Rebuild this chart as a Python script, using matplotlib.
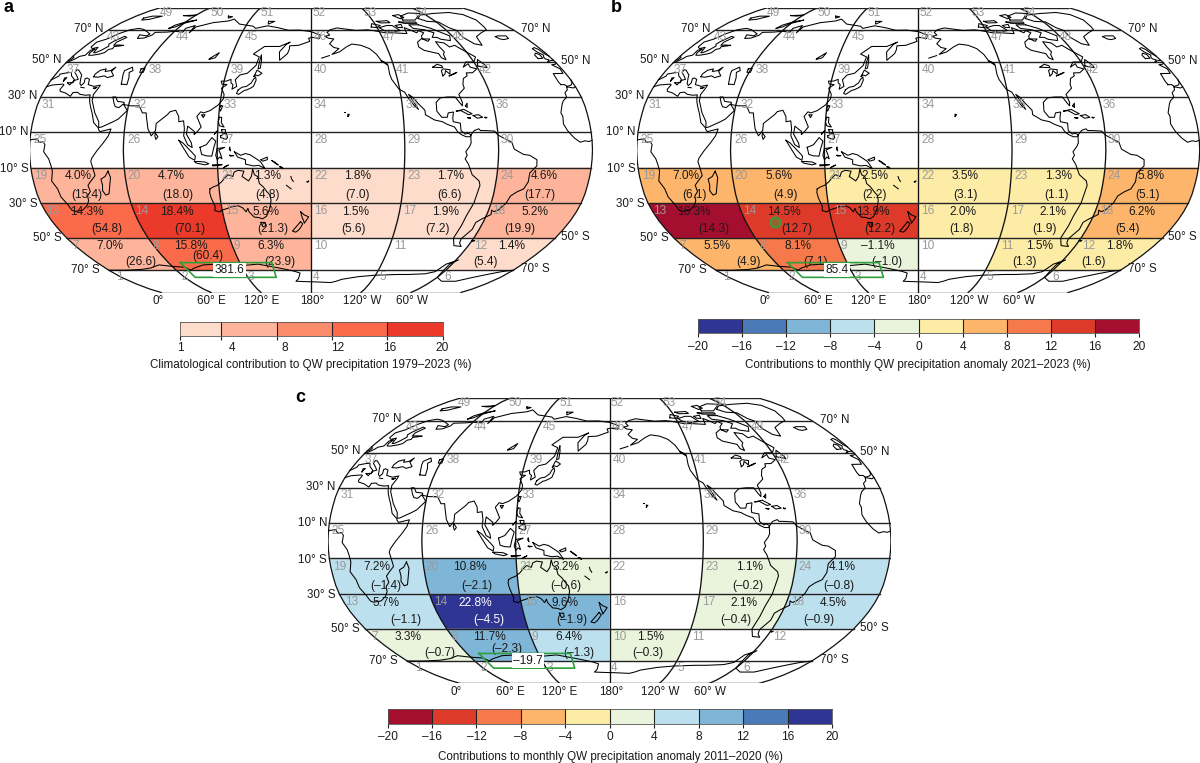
import numpy as np
import matplotlib
matplotlib.use("Agg")
import matplotlib.pyplot as plt
from matplotlib.colors import BoundaryNorm, ListedColormap

plt.rcParams['font.family'] = ['Liberation Sans', 'DejaVu Sans']

W, H = 1200, 763

# cells 7..24 of the 60x20 degree grid, nan = not coloured
pct_a = [7.0, 15.8, 6.3, np.nan, np.nan, 1.4,
         14.3, 18.4, 5.6, 1.5, 1.9, 5.2,
         4.0, 4.7, 1.3, 1.8, 1.7, 4.6]
val_a = [26.6, 60.4, 23.9, np.nan, np.nan, 5.4,
         54.8, 70.1, 21.3, 5.6, 7.2, 19.9,
         15.4, 18.0, 4.8, 7.0, 6.6, 17.7]
box_a = "381.6"

pct_b = [5.5, 8.1, -1.1, np.nan, 1.5, 1.8,
         16.3, 14.5, 13.9, 2.0, 2.1, 6.2,
         7.0, 5.6, 2.5, 3.5, 1.3, 5.8]
val_b = [4.9, 7.1, -1.0, np.nan, 1.3, 1.6,
         14.3, 12.7, 12.2, 1.8, 1.9, 5.4,
         6.1, 4.9, 2.2, 3.1, 1.1, 5.1]
box_b = "85.4"

pct_c = [3.3, 11.7, 6.4, 1.5, np.nan, np.nan,
         5.7, 22.8, 9.6, np.nan, 2.1, 4.5,
         7.2, 10.8, 3.2, np.nan, 1.1, 4.1]
val_c = [-0.7, -2.3, -1.3, -0.3, np.nan, np.nan,
         -1.1, -4.5, -1.9, np.nan, -0.4, -0.9,
         -1.4, -2.1, -0.6, np.nan, -0.2, -0.8]
box_c = "\u201319.7"

levels_a = [1, 4, 8, 12, 16, 20]
levels_div = [-20, -16, -12, -8, -4, 0, 4, 8, 12, 16, 20]
colors_a = ['#fddccc', '#fdb49b', '#fb8c6c', '#fb6a4a', '#ec3a2a']
colors_div = ['#2f3592', '#4a7ab8', '#7fb6d8', '#bde0ef', '#eaf4dc',
              '#fdeca6', '#fdb56b', '#f5794a', '#dd3a2a', '#a50f2f']

title_a = "Climatological contribution to QW precipitation 1979\u20132023 (%)"
title_b = "Contributions to monthly QW precipitation anomaly 2021\u20132023 (%)"
title_c = "Contributions to monthly QW precipitation anomaly 2011\u20132020 (%)"

# Robinson table
plat = np.arange(0, 95, 5)
plen = np.array([1, .9986, .9954, .99, .9822, .973, .96, .9427, .9216, .8962, .8679,
                 .835, .7986, .7597, .7186, .6732, .6213, .5722, .5322])
pdfe = np.array([0, .062, .124, .186, .248, .31, .372, .434, .4958, .5571, .6176,
                 .6769, .7346, .7903, .8435, .8936, .9394, .9761, 1])

# coastlines, lon/lat read by eye
africa = [(-5.9, 35.8), (-2, 35.1), (3, 36.8), (10, 37.3), (11, 36.9), (10.2, 34.3), (11, 33.2), (15, 32.3), (19.5, 30.4), (20, 32.5),
          (23, 32.7), (25, 31.6), (29, 31), (32.3, 31.2), (32.6, 29.9), (33.8, 27), (35.5, 24), (37.2, 21), (38.5, 18), (39.5, 15.5),
          (43, 12.5), (43.3, 11.5), (44.5, 10.4), (51.2, 11.9), (50, 8), (47, 4), (43, -0.5), (39.7, -4.5), (38.8, -6.5), (39.5, -9),
          (40.6, -14.5), (36.8, -18), (34.8, -20), (35.4, -23.5), (32.8, -26), (32.4, -28.7), (30, -31.5), (25.7, -34), (20, -34.8),
          (18.4, -34), (17.5, -31), (15, -26.5), (14.4, -22), (11.8, -17.5), (13.5, -12), (13, -8.5), (12, -5), (9, -1), (9.7, 3),
          (8.5, 4.6), (6, 4.3), (4.5, 6.3), (1, 5.9), (-2, 4.8), (-4.5, 5.2), (-7.6, 4.4), (-11, 6.7), (-13.3, 9), (-15, 11),
          (-17, 14.7), (-16.3, 19), (-17, 21), (-14.5, 26), (-12.9, 27.9), (-9.8, 29.8), (-9.3, 32.5), (-6.8, 34), (-5.9, 35.8)]
eurasia = [(-9, 37), (-9.5, 38.7), (-8.8, 43.3), (-1.8, 43.4), (-1.1, 46), (-4.5, 48.4), (-1.5, 48.7), (1.5, 50.2), (4, 52), (5, 53.3),
           (8.5, 54), (8.2, 57), (10.6, 57.7), (10, 55.5), (11, 54), (14, 54), (18.5, 54.7), (21, 55.5), (21.5, 57.5), (24, 58),
           (23.5, 59.2), (28, 59.7), (30, 60), (25, 60.2), (22, 60), (21.3, 62), (25, 65), (22, 65.7), (18, 62.5), (17, 60.7),
           (18.8, 59.5), (16.5, 57), (14.3, 55.5), (12.8, 55.5), (11.3, 58.8), (8, 58), (5.5, 59), (5, 62), (10, 64), (14, 67.5),
           (19, 70), (25, 71), (31, 70.2), (41, 67.3), (40, 66), (33, 66.7), (35, 64.3), (40, 64.6), (44, 66.5), (44, 68.3), (54, 68.5),
           (60, 69), (68, 68.5), (67, 71), (73, 73), (74, 68), (75, 72), (81, 73.5), (87, 75), (100, 76.3), (104, 77.7), (113, 74),
           (127, 72.5), (130, 71), (140, 72.8), (150, 71.5), (160, 69.7), (170, 69.8), (180, 68.8), (-172, 66.5), (-173, 64.3),
           (-179, 65), (178, 64.5), (179, 62.5), (170, 60), (163, 59.7), (163, 57.5), (162, 55), (156.7, 51), (155.6, 56), (160, 60.5),
           (163, 62), (155, 59.3), (143, 59.3), (136, 54.7), (141, 53), (140, 48), (135, 43.5), (130, 42.5), (127.5, 39.8), (129.4, 36),
           (126.5, 34.4), (126.6, 37), (125, 38), (124.5, 40), (121.5, 39), (118, 39), (119, 37.3), (122.5, 37), (119.3, 35),
           (121.8, 31.5), (121.8, 29), (119, 25.5), (114, 22.3), (110, 21), (108, 21.6), (105.8, 19), (109.2, 13), (107, 10.5),
           (105, 8.7), (105, 10.5), (100.5, 13.5), (100, 9), (103.4, 4), (104, 1.4), (101, 3), (98.3, 8), (98.5, 12), (97.5, 16.5),
           (94.5, 16), (94, 19), (91.5, 22.5), (88, 21.7), (86.5, 20), (82, 16.5), (80, 15), (80, 11), (77.5, 8), (75, 12), (73, 19),
           (72.5, 21), (70, 21), (69, 22.5), (67, 25), (61.5, 25), (57, 25.7), (56.5, 27), (52, 27.5), (50, 30), (48, 30), (50, 26.5),
           (51.5, 24.5), (54, 24), (56.3, 26), (58.8, 23.5), (59.8, 22.3), (55, 17.5), (52, 16), (45, 13), (43.2, 12.7), (42.7, 16),
           (39, 21), (35, 28), (34.9, 29.5), (34.3, 31.3), (35.8, 35), (36, 36.7), (32, 36), (30, 36.5), (27.5, 37), (26.3, 40),
           (24, 40.8), (23, 40.3), (24, 38), (23, 36.5), (21.5, 37.5), (19.5, 41), (18.7, 42.5), (14, 45.3), (12.5, 45.5), (12.5, 44),
           (16, 41.8), (18.5, 40), (16.5, 39.5), (16, 38), (15.7, 40), (12, 42), (10, 44), (7, 43.7), (3, 43), (3.2, 41.8), (0, 39.7),
           (-0.5, 38), (-2, 36.8), (-5.5, 36), (-6.5, 37), (-9, 37)]
black_sea = [(28, 41.5), (27.7, 43), (29.5, 45.2), (33, 46), (33.5, 44.5), (37, 45), (39, 47), (38, 44.5), (41.5, 42), (38, 41), (35, 42), (31, 41.2), (28, 41.5)]
caspian = [(50, 37.3), (49, 40), (47.5, 43), (47, 45), (51, 47), (53, 45), (51, 44), (53, 41), (54, 37), (50, 37.3)]
n_america = [(-168, 65.7), (-164, 66.5), (-166, 68.3), (-163, 70), (-156.5, 71.3), (-148, 70.4), (-140, 69.6), (-130, 70), (-125, 69.5),
             (-115, 68), (-108, 68), (-97, 67.5), (-95.5, 71.5), (-92, 70), (-88, 68), (-85, 69.5), (-82, 68), (-86, 66), (-87, 64.5),
             (-93, 62), (-94.5, 59), (-92, 57), (-85, 55.5), (-82.3, 55), (-82, 52.5), (-79.5, 51.3), (-79, 54.5), (-77, 56), (-78, 59),
             (-78, 62.3), (-72, 61.5), (-70, 59), (-65, 60), (-62, 57.5), (-56, 53), (-60, 50), (-66, 50), (-70, 47), (-65, 49), (-65, 47),
             (-61, 46), (-65.5, 43.8), (-70, 43.7), (-70.5, 42), (-74, 40.5), (-76, 37), (-76, 35), (-81, 31.5), (-80, 27), (-80.5, 25),
             (-82, 27), (-84, 30), (-89, 30), (-94, 29.5), (-97.3, 27), (-97.8, 22), (-95, 18.5), (-91.5, 18.5), (-90.5, 21), (-87, 21.5),
             (-88, 18), (-88, 16), (-83.5, 15.2), (-83.5, 11), (-81, 9), (-79, 9.5), (-77.3, 8.6), (-78, 7.5), (-80.5, 7.5), (-83, 8.5),
             (-85.5, 10), (-87.5, 13), (-92, 14.5), (-95, 16), (-100, 17), (-105.5, 20), (-105.5, 22.5), (-109, 26), (-112.5, 30),
             (-114.7, 31.5), (-112, 27), (-109.6, 23), (-112, 25), (-115, 29), (-117, 32.7), (-120.5, 34.5), (-124, 40), (-124.5, 43),
             (-124, 48), (-128, 51), (-130, 54.5), (-134, 58), (-140, 60), (-147, 60.8), (-152, 59), (-158, 56), (-164, 54.5), (-158, 58),
             (-162, 58.7), (-165, 61), (-161, 64), (-165.5, 64.5), (-168, 65.7)]
s_america = [(-77.3, 8.6), (-75, 11), (-72, 12), (-71, 11), (-68, 11), (-62, 10.7), (-60, 8.5), (-55, 6), (-51.5, 4.5), (-50, 0.5), (-44, -2.5),
             (-40, -3), (-35.3, -5.5), (-35, -9), (-39, -13), (-39, -18), (-41, -22), (-45, -23.7), (-48.5, -26), (-50, -30), (-53.5, -34),
             (-56, -34.9), (-58, -34), (-57, -36.5), (-62, -39), (-65, -41), (-65, -45), (-69, -50.5), (-68, -53), (-65, -55), (-71, -54.5),
             (-75, -50), (-74, -43), (-73.5, -37), (-71.5, -30), (-70, -20), (-71, -17.5), (-76, -14), (-79, -8), (-81.3, -5), (-80, -3),
             (-81, -1), (-78.5, 2), (-77.5, 4), (-77.5, 7), (-77.3, 8.6)]
greenland = [(-73, 78.2), (-66, 81), (-50, 82.5), (-30, 83.5), (-20, 81.5), (-18, 77), (-22, 72), (-24, 70), (-32, 68), (-40, 65.5), (-43, 60),
             (-48, 61), (-52, 65), (-51, 69.5), (-55, 71.5), (-58, 75.5), (-68, 76), (-73, 78.2)]
australia = [(114, -22), (116, -21), (119, -20), (122, -18), (124, -16), (126.5, -14), (129.5, -15), (130.5, -12.5), (133, -11.5), (136.8, -12),
             (135.5, -15), (139.5, -17.5), (141.5, -15), (142.5, -10.8), (143.5, -14), (145.5, -15), (146.5, -19), (149, -21), (151, -23.5),
             (153, -25.5), (153.5, -28.5), (152.5, -32.5), (150.5, -36), (149.5, -37.5), (146.5, -39), (144, -38.2), (141, -38), (139, -36),
             (138, -35), (137.5, -33), (136, -35), (134, -32.7), (131, -31.5), (126, -32.3), (124, -33), (120, -34), (118, -35), (115, -34.3),
             (115.7, -32), (114, -27), (113.5, -24), (114, -22)]
antarctica = [(0, -70), (15, -70), (30, -69.5), (40, -68.5), (50, -66.5), (60, -67.5), (70, -68), (73, -70), (78, -68.5), (88, -66.5), (100, -66),
              (110, -66), (120, -67), (135, -66), (145, -67.5), (155, -69), (165, -70.7), (170, -72), (168, -76), (165, -78), (175, -78.3),
              (-175, -78.5), (-160, -79), (-155, -78), (-150, -76.5), (-135, -74.5), (-120, -73.5), (-100, -73), (-90, -73), (-75, -72.5),
              (-68, -71), (-65, -66), (-58, -63.3), (-62, -66), (-62, -70), (-60, -75), (-50, -78), (-36, -78), (-26, -75), (-15, -72.5),
              (-8, -71), (0, -70)]
islands = [
    [(145, -41), (148, -41), (148, -43), (146, -43.5), (145, -41)],
    [(173, -35), (175.5, -36.8), (178.4, -37.8), (177, -39.5), (175.3, -41.5), (174.8, -39.8), (174, -38.5), (173, -35)],
    [(172.7, -40.6), (174.2, -41.8), (172.8, -43.7), (171, -45.5), (169, -46.6), (166.7, -46), (169, -44), (172.7, -40.6)],
    [(131, -1), (135, -3), (138, -2), (141, -2.7), (145, -5), (147.5, -6.5), (150.5, -10.5), (146.5, -8.7), (143, -9), (138, -8), (138, -5.5), (133, -4), (131, -1)],
    [(109, 1.5), (113, 3), (116.5, 7), (119, 5), (117.7, 1), (116.5, -3.5), (113, -3.3), (110, -2.5), (109, 1.5)],
    [(95.3, 5.5), (98, 4), (103.5, -1), (106, -3.5), (105.5, -5.8), (102, -4), (98.5, 1), (95.3, 5.5)],
    [(105.3, -6.5), (108, -6.5), (112, -6.8), (114.5, -7.8), (112, -8.4), (106.5, -7.4), (105.3, -6.5)],
    [(120, 0.8), (124.8, 1.5), (121, 0), (122, -2), (123, -5), (121.5, -4), (120, -5.5), (119, -3), (120, 0.8)],
    [(120.5, 18.5), (122, 18.5), (122, 15.5), (124, 13), (121, 13.7), (120, 16), (120.5, 18.5)],
    [(122, 8), (125.5, 9.7), (126.5, 7), (125.5, 6), (124, 6.5), (122, 7), (122, 8)],
    [(118, 9), (120, 11), (118.8, 10), (118, 9)],
    [(122.5, 11.5), (125, 11.5), (125, 10), (123, 9.5), (122.5, 11.5)],
    [(120.8, 25), (122, 25), (120.8, 22), (120, 23.5), (120.8, 25)],
    [(109, 19.8), (111, 20), (110, 18.3), (109, 19.8)],
    [(80, 9.7), (81.8, 7.5), (80.6, 6), (79.8, 8), (80, 9.7)],
    [(130.8, 34), (133, 35.5), (136, 36), (139, 38), (140, 40), (141.3, 41.4), (142, 39.5), (140.8, 36), (139, 35), (136.5, 34), (135, 33.7), (131.5, 31.5), (130, 32), (130.8, 34)],
    [(140, 41.7), (141.5, 45.3), (145.3, 43.5), (143, 42), (141, 42.5), (140, 41.7)],
    [(142.3, 54), (143.3, 51), (143.5, 46.5), (142, 46), (142, 50), (142.3, 54)],
    [(49.3, -12), (50.4, -15.5), (47.3, -24.8), (45, -25.5), (43.5, -23), (44.3, -20), (44, -16.5), (47, -15), (49.3, -12)],
    [(-5.5, 50), (-3, 50.7), (1.3, 51.2), (1.7, 52.7), (0, 53.5), (-1.5, 55), (-2, 57.5), (-3.5, 58.6), (-6, 58), (-5.5, 56), (-3.2, 54), (-4.7, 53), (-5, 51.8), (-3, 51.3), (-5.5, 50)],
    [(-10, 52), (-6.3, 52.2), (-5.8, 54.5), (-8, 55.2), (-10, 54), (-10, 52)],
    [(-24, 65.5), (-21, 66), (-14, 66), (-15, 64.3), (-20, 63.6), (-22.5, 64), (-24, 65.5)],
    [(-80, 73.5), (-72, 71), (-66, 68), (-62, 66), (-65, 63), (-72, 63.8), (-74, 65), (-78, 65), (-73, 68), (-79, 70), (-88, 71), (-89, 73.5), (-80, 73.5)],
    [(-118, 71.5), (-110, 73), (-105, 73), (-101, 69.5), (-108, 68.8), (-115, 69.3), (-118, 71.5)],
    [(-90, 77), (-88, 80), (-75, 83), (-62, 82.5), (-70, 80), (-78, 77), (-90, 77)],
    [(-95, 80.5), (-88, 81.5), (-86, 79), (-91, 78), (-95, 80.5)],
    [(-125, 72), (-123, 74.3), (-116, 73), (-120, 71.5), (-125, 72)],
    [(-117, 76), (-106, 76.5), (-105, 75), (-114, 74.8), (-117, 76)],
    [(-96, 75.5), (-80, 75.5), (-80, 74.5), (-92, 74.5), (-96, 75.5)],
    [(-102, 73), (-96, 73.8), (-97, 71.5), (-101, 71.7), (-102, 73)],
    [(-87, 64), (-81, 64), (-84, 62.5), (-87, 64)],
    [(-59, 47.7), (-56, 51.5), (-53, 48), (-53, 46.7), (-59, 47.7)],
    [(-128, 50.7), (-124, 48.5), (-126, 50), (-128, 50.7)],
    [(12, 78.5), (17, 80), (27, 80), (20, 77.5), (14, 77), (12, 78.5)],
    [(52, 71), (54, 73.3), (60, 75.5), (68, 77), (60, 74.5), (56, 72), (52, 71)],
    [(-85, 22), (-80, 23), (-75, 20.5), (-77.5, 20), (-82, 22.3), (-85, 22)],
    [(-74.5, 19.5), (-71, 20), (-68.5, 18.5), (-72, 18), (-74.5, 19.5)],
    [(-78.3, 18.3), (-76.3, 18.2), (-77, 17.8), (-78.3, 18.3)],
    [(-67, 18.5), (-65.7, 18.4), (-66.5, 18), (-67, 18.5)],
    [(-78.5, 25), (-77, 26.5), (-77.5, 24), (-78.5, 25)],
    [(-156, 19), (-155, 20), (-156, 20.3), (-156, 19)],
    [(-158.2, 21.5), (-157.7, 21.5)],
    [(155, -6), (157, -7.5), (159, -8.5), (157, -7), (155, -6)],
    [(160, -9.5), (162, -10.5), (161, -9.5), (160, -9.5)],
    [(167, -15), (167.5, -16.5), (168.5, -17.8)],
    [(164, -20), (165.5, -21), (167, -22)],
    [(177.5, -18), (178.6, -17.5), (178, -18.2), (177.5, -18)],
    [(148, -5.5), (152, -4), (152, -5.5), (149, -6.3), (148, -5.5)],
    [(124, -10), (127, -8.5), (124.5, -9.5), (124, -10)],
    [(117, -8.5), (119, -8.3), (123, -8.3), (120, -8.8), (117, -9), (117, -8.5)],
    [(128, 1.5), (128.5, -0.5), (127.7, 0.5), (128, 1.5)],
    [(128, -3), (130.5, -3.2), (128.5, -3.5), (128, -3)],
    [(-92, 47), (-88, 48.7), (-85, 47.8), (-85, 46.7), (-92, 47)],
    [(-87.5, 42), (-87, 45), (-85, 46), (-80.5, 45.5), (-82, 43), (-84, 45), (-85.5, 43), (-87.5, 42)],
    [(-83, 42), (-79, 43), (-76.5, 44), (-79.5, 43.2), (-83, 42)],
    [(-60, -51.5), (-58, -51.5), (-59, -52), (-60, -51.5)],
    [(-172, 52.3), (-166, 53.8)],
    [(9, 39), (9.7, 41), (8.3, 40.8), (9, 39)],
    [(12.7, 38), (15.5, 38.2), (15, 36.8), (12.7, 38)],
    [(23.5, 35.5), (26, 35.2)],
    [(32.5, 35), (34.5, 35.5), (33.5, 34.7), (32.5, 35)],
    [(58, 46), (60.5, 46.5), (61, 44), (58.5, 44), (58, 46)],
    [(104, 52), (109.5, 55.5), (108, 52.5), (104, 51.5)],
    [(139, 76), (145, 76), (140, 74), (139, 76)],
    [(95, 80), (100, 79.5), (97, 78.5), (95, 80)],
    [(48, 80.5), (60, 81), (55, 80), (48, 80.5)],
]
coasts = [africa, eurasia, black_sea, caspian, n_america, s_america, greenland, australia, antarctica] + islands

# label layout in pixels of panel a (same in all three maps)
cx0, cy0, hw, hh = 311.0, 150.0, 281.5, 142.5
id_rows = [
    [119.5, 185, 251, 316, 382.4, 448],
    [75.9, 156, 236.4, 320.7, 400, 481],
    [52.9, 142, 232, 320.7, 410, 499],
    [41, 134, 228, 320.7, 414, 507],
    [40, 133.7, 227, 320.7, 414, 507],
    [48.3, 139.8, 230, 320.7, 412, 502],
    [72.8, 155, 237.5, 320.7, 402, 485],
    [113.4, 182, 251, 320, 389.7, 458.6],
    [166, 217, 267.4, 319, 370.5, 421.5],
]
id_y = [277.3, 246, 211, 175.7, 140, 104.7, 69.7, 36.7, 12.7]
pct_x = [110, 191, 270.5, 352, 432.6, 512,
         87, 177, 266, 355.6, 445.6, 535,
         78.5, 171.6, 268, 358, 451, 544]
val_x = [141, 208, 280, 349, 417, 486,
         107, 190, 273, 354, 437, 520,
         87, 178, 267, 358, 449, 540]
pct_y = [246.3, 211.7, 176]
val_y = [262.3, 229.3, 194.7]
lat_left = [("70\u00b0 N", 103.4, 28.5), ("50\u00b0 N", 62, 60), ("30\u00b0 N", 37, 96), ("10\u00b0 N", 28.7, 132),
            ("10\u00b0 S", 28.7, 169), ("30\u00b0 S", 37.5, 203.7), ("50\u00b0 S", 61.3, 238), ("70\u00b0 S", 99.6, 270)]
lat_right = [("70\u00b0 N", 521, 29), ("50\u00b0 N", 561, 61), ("50\u00b0 S", 561, 237), ("70\u00b0 S", 521, 269)]
lon_lab = [("0\u00b0", 157.9), ("60\u00b0 E", 211.5), ("120\u00b0 E", 261.3), ("180\u00b0", 312.3), ("120\u00b0 W", 362), ("60\u00b0 W", 412)]


def robinson(lon, lat):
    lon = np.asarray(lon, dtype=float)
    lat = np.asarray(lat, dtype=float)
    x = np.interp(np.abs(lat), plat, plen) * (lon - 180) / 180
    y = np.sign(lat) * np.interp(np.abs(lat), plat, pdfe)
    return x, y


def lay(px, py):
    return (px - cx0) / hw, (cy0 - py) / hh


def fmt(v):
    return f"{abs(v):.1f}" if v >= 0 else f"\u2013{abs(v):.1f}"


def coast_line(pts):
    lon, lat = np.array(pts, dtype=float).T
    lon = lon % 360
    xs, ys = [], []
    for i in range(len(lon)):
        if i > 0 and abs(lon[i] - lon[i - 1]) > 180:
            a, b = lon[i - 1], lon[i]
            if a > b:
                e1, e2, t = 360, 0, (360 - a) / (360 - a + b)
            else:
                e1, e2, t = 0, 360, a / (a + 360 - b)
            ym = lat[i - 1] + t * (lat[i] - lat[i - 1])
            xs += [e1, np.nan, e2]
            ys += [ym, np.nan, ym]
        xs.append(lon[i])
        ys.append(lat[i])
    return robinson(xs, ys)


def draw_map(fig, cx, cy, pct, val, box, cmap, norm, y8, light=()):
    ax = fig.add_axes([(cx - hw) / W, 1 - (cy + hh) / H, 2 * hw / W, 2 * hh / H])
    ax.set_xlim(-1, 1)
    ax.set_ylim(-1, 1)
    ax.axis('off')
    lats = [-70, -50, -30, -10]
    # coloured cells
    for k in range(18):
        if np.isnan(pct[k]):
            continue
        row, col = k // 6, k % 6
        lo, hi = lats[row], lats[row + 1]
        la = np.linspace(lo, hi, 9)
        lon = np.r_[np.full(9, col * 60), np.full(9, (col + 1) * 60)]
        x, y = robinson(lon, np.r_[la, la[::-1]])
        ax.fill(x, y, color=cmap(norm(pct[k])), lw=0, zorder=1)
    # graticule
    la = np.linspace(-90, 90, 73)
    for lon in [60, 120, 180, 240, 300]:
        x, y = robinson(np.full(73, lon), la)
        ax.plot(x, y, color='#111111', lw=0.95, zorder=3)
    for lon in [0, 360]:
        x, y = robinson(np.full(73, lon), la)
        ax.plot(x, y, color='#111111', lw=0.9, zorder=3)
    for lat in [70, 50, 30, 10, -10, -30, -50, -70, 90, -90]:
        lo = np.array([0, 360])
        x, y = robinson(lo, np.full(2, lat))
        ax.plot(x, y, color='#222222', lw=1.0, zorder=3)
    for pts in coasts:
        x, y = coast_line(pts)
        ax.plot(x, y, color='black', lw=0.75, zorder=4, solid_joinstyle='round')
    # cell numbers
    num = 1
    for r in range(9):
        for c in range(6):
            x, y = lay(id_rows[r][c], id_y[r])
            ax.text(x, y, str(num), color='#9a9a9a', fontsize=8.6, ha='center', va='center', zorder=5, clip_on=False)
            num += 1
    # percentages
    for k in range(18):
        if np.isnan(pct[k]):
            continue
        row = k // 6
        col_txt = 'white' if k in light else '#1a1a1a'
        x, y = lay(pct_x[k], pct_y[row])
        ax.text(x, y, fmt(pct[k]) + "%", color=col_txt, fontsize=8.6, ha='center', va='center', zorder=6)
        x, y = lay(val_x[k], y8 if k == 1 else val_y[row])
        ax.text(x, y, "(" + fmt(val[k]) + ")", color=col_txt, fontsize=8.6, ha='center', va='center', zorder=6)
    # green box
    x, y = robinson([70, 147, 147, 70, 70], [-65, -65, -75, -75, -65])
    ax.plot(x, y, color='#2f9e3c', lw=1.2, zorder=7)
    x, y = lay(229.5, 270)
    ax.text(x, y, box, color='#1a1a1a', fontsize=8.6, ha='center', va='center', zorder=8,
            bbox=dict(facecolor='white', edgecolor='none', pad=1.0))
    for txt, px, py in lat_left:
        x, y = lay(px, py)
        ax.text(x, y, txt, fontsize=8.4, color='#1a1a1a', ha='right', va='center', clip_on=False)
    for txt, px, py in lat_right:
        x, y = lay(px, py)
        ax.text(x, y, txt, fontsize=8.4, color='#1a1a1a', ha='left', va='center', clip_on=False)
    for txt, px in lon_lab:
        x, y = lay(px, 301)
        ax.text(x, y, txt, fontsize=8.4, color='#1a1a1a', ha='center', va='center', clip_on=False)
    return ax


def draw_bar(fig, x0, x1, y0, y1, levels, colors, label_y, title, title_x, title_y):
    cax = fig.add_axes([x0 / W, 1 - y1 / H, (x1 - x0) / W, (y1 - y0) / H])
    lev = np.array(levels, dtype=float)
    cax.pcolormesh(lev, [0, 1], np.arange(len(colors))[None, :], cmap=ListedColormap(colors),
                   vmin=-0.5, vmax=len(colors) - 0.5)
    cax.set_xlim(lev[0], lev[-1])
    cax.set_ylim(0, 1)
    cax.set_yticks([])
    cax.set_xticks(lev)
    cax.set_xticklabels([])
    cax.tick_params(axis='x', length=3, width=0.8, color='#222222')
    for v in lev[1:-1]:
        cax.axvline(v, color='#222222', lw=0.8)
    for s in cax.spines.values():
        s.set_linewidth(0.6)
        s.set_color('#555555')
    # labels are evenly spaced even where the colour steps are not
    lab_pos = np.linspace(lev[0], lev[-1], len(lev))
    for p, v in zip(lab_pos, levels):
        t = str(v) if v >= 0 else f"\u2013{abs(v)}"
        cax.annotate(t, (p, 0), xycoords=('data', 'axes fraction'), xytext=(0, -(label_y - y1) * 0.72),
                     textcoords='offset points', ha='center', va='center', fontsize=8.6, color='#1a1a1a',
                     annotation_clip=False)
    fig.text(title_x / W, 1 - title_y / H, title, fontsize=8.35, color='#1a1a1a', ha='center', va='center')


fig = plt.figure(figsize=(W / 100, H / 100), dpi=100)

cmap_a = ListedColormap(colors_a)
norm_a = BoundaryNorm(levels_a, cmap_a.N, clip=True)
cmap_b = ListedColormap(colors_div)
norm_b = BoundaryNorm(levels_div, cmap_b.N, clip=True)
cmap_c = ListedColormap(colors_div[::-1])
norm_c = BoundaryNorm(levels_div, cmap_c.N, clip=True)

draw_map(fig, 311.0, 150.0, pct_a, val_a, box_a, cmap_a, norm_a, 256)
ax_b = draw_map(fig, 918.2, 150.0, pct_b, val_b, box_b, cmap_b, norm_b, 262.3)
draw_map(fig, 609.5, 540.8, pct_c, val_c, box_c, cmap_c, norm_c, 258.5, light=(7,))

# small circle in panel b
cxb, cyb = robinson([80], [-41])
ax_b.scatter(cxb, cyb, s=52, facecolor=(0.25, 0.6, 0.2, 0.45), edgecolor='#3d9a3a', lw=1.5, zorder=7)

draw_bar(fig, 180, 442.5, 322, 336, levels_a, colors_a, 347.7, title_a, 311, 365)
draw_bar(fig, 698, 1139, 319, 333, levels_div, colors_div, 346.7, title_b, 918, 365)
draw_bar(fig, 387.6, 832, 709.3, 724.3, levels_div, colors_div[::-1], 737.3, title_c, 610, 756.7)

fig.text(8 / W, 1 - 8 / H, "a", fontsize=13, fontweight='bold', ha='center', va='center')
fig.text(616 / W, 1 - 8 / H, "b", fontsize=13, fontweight='bold', ha='center', va='center')
fig.text(300 / W, 1 - 397.7 / H, "c", fontsize=13, fontweight='bold', ha='center', va='center')

fig.savefig("out.png", dpi=100)
